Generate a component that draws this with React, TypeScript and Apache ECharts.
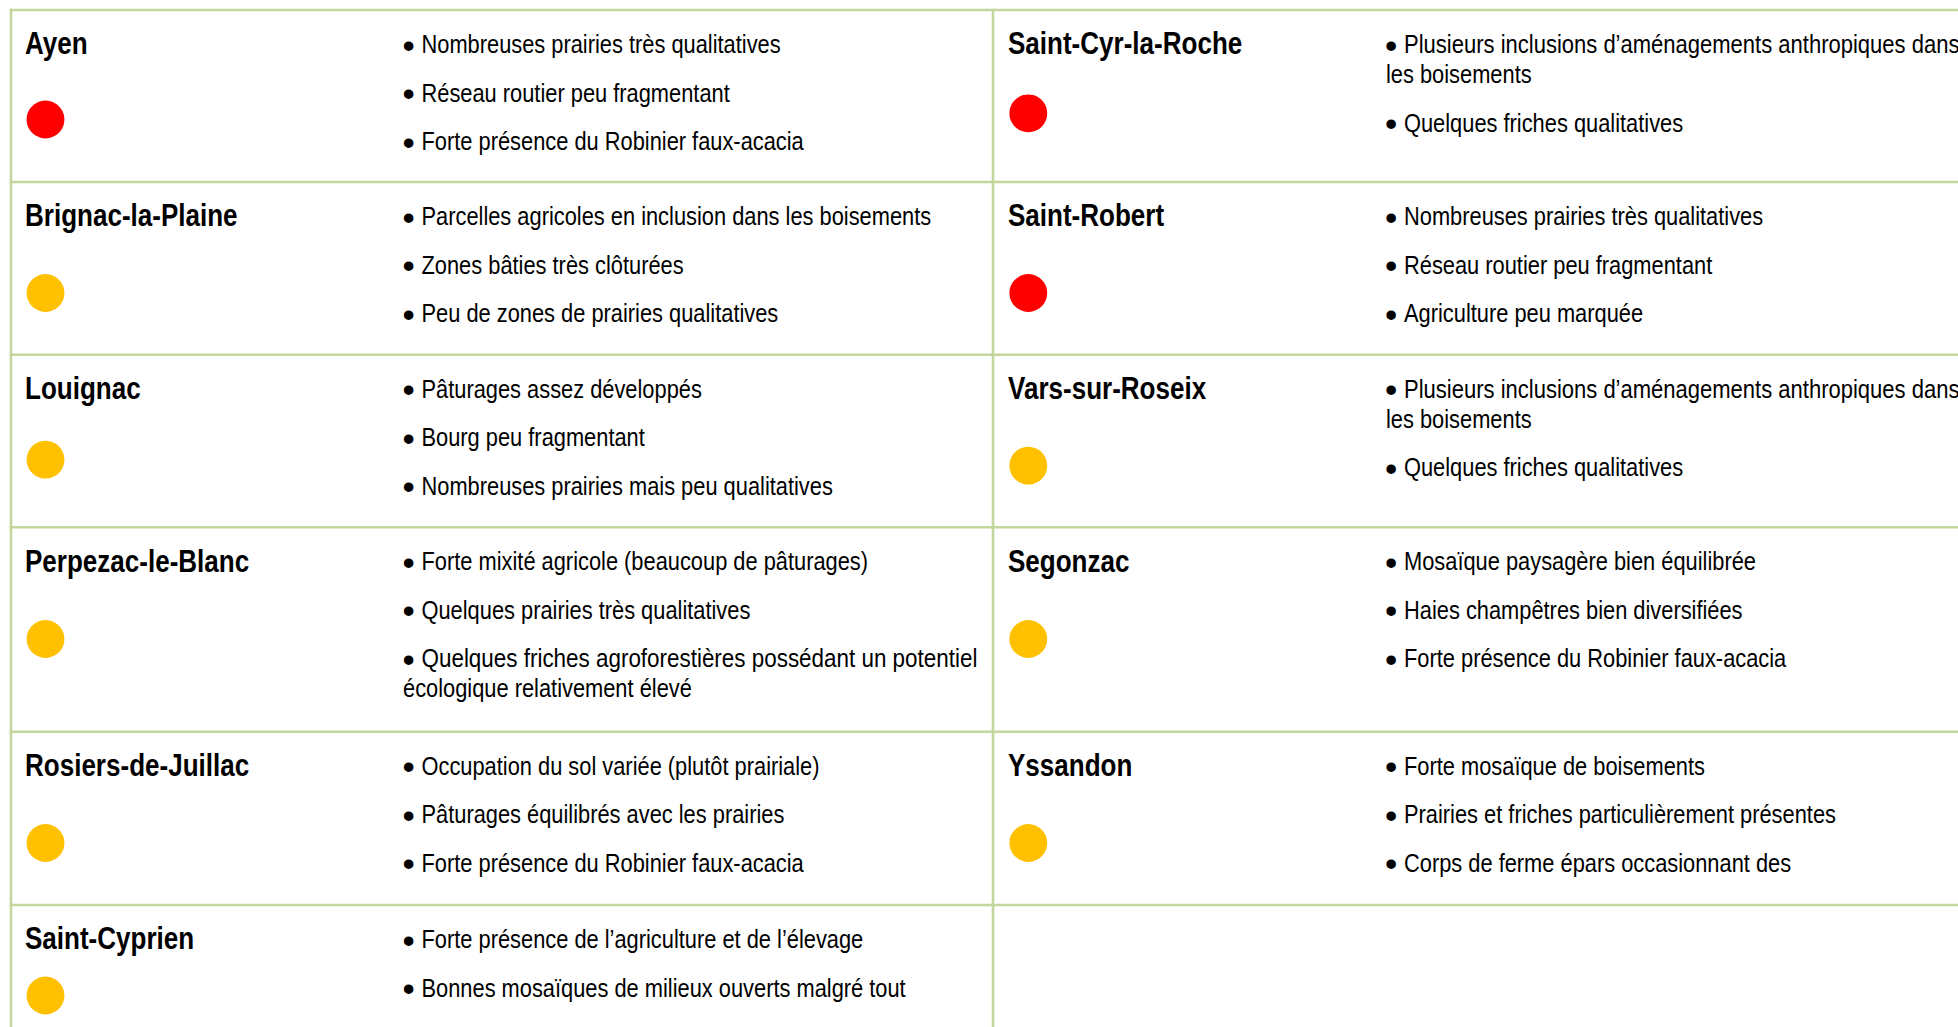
import React, { useEffect, useRef } from "react";
import * as echarts from "echarts";

// ---------- Data ----------
const LEFT_NAMES = [
  "Ayen",
  "Brignac-la-Plaine",
  "Louignac",
  "Perpezac-le-Blanc",
  "Rosiers-de-Juillac",
  "Saint-Cyprien",
];
const LEFT_STATUS = ["rouge", "jaune", "jaune", "jaune", "jaune", "jaune"];
const LEFT_POINTS: string[][][] = [
  [["Nombreuses prairies très qualitatives"], ["Réseau routier peu fragmentant"], ["Forte présence du Robinier faux-acacia"]],
  [["Parcelles agricoles en inclusion dans les boisements"], ["Zones bâties très clôturées"], ["Peu de zones de prairies qualitatives"]],
  [["Pâturages assez développés"], ["Bourg peu fragmentant"], ["Nombreuses prairies mais peu qualitatives"]],
  [
    ["Forte mixité agricole (beaucoup de pâturages)"],
    ["Quelques prairies très qualitatives"],
    ["Quelques friches agroforestières possédant un potentiel", "écologique relativement élevé"],
  ],
  [["Occupation du sol variée (plutôt prairiale)"], ["Pâturages équilibrés avec les prairies"], ["Forte présence du Robinier faux-acacia"]],
  [["Forte présence de l’agriculture et de l’élevage"], ["Bonnes mosaïques de milieux ouverts malgré tout"]],
];

const RIGHT_NAMES = ["Saint-Cyr-la-Roche", "Saint-Robert", "Vars-sur-Roseix", "Segonzac", "Yssandon"];
const RIGHT_STATUS = ["rouge", "rouge", "jaune", "jaune", "jaune"];
const RIGHT_POINTS: string[][][] = [
  [["Plusieurs inclusions d’aménagements anthropiques dans", "les boisements"], ["Quelques friches qualitatives"]],
  [["Nombreuses prairies très qualitatives"], ["Réseau routier peu fragmentant"], ["Agriculture peu marquée"]],
  [["Plusieurs inclusions d’aménagements anthropiques dans", "les boisements"], ["Quelques friches qualitatives"]],
  [["Mosaïque paysagère bien équilibrée"], ["Haies champêtres bien diversifiées"], ["Forte présence du Robinier faux-acacia"]],
  [["Forte mosaïque de boisements"], ["Prairies et friches particulièrement présentes"], ["Corps de ferme épars occasionnant des"]],
];

// ---------- Styles / layout ----------
const STATUS_COLORS: Record<string, string> = { rouge: "#ff0000", jaune: "#ffc000" };
const LINE_COLOR = "#c3d69b";
const FAMILY = '"Liberation Sans", Arial, sans-serif';
const BODY_SIZE = 26;
const BODY_SCALE = 0.84;
const NAME_SIZE = 31;
const NAME_SCALE = 0.84;
const W = 1958;
const H = 1027;
const ROW_LINES = [10, 182, 354.7, 527.3, 731.7, 905];
const LEFT_EDGE = 11;
const MID_EDGE = 993;

const COLUMNS = [
  {
    names: LEFT_NAMES,
    status: LEFT_STATUS,
    points: LEFT_POINTS,
    nameX: 25,
    dotX: 45.5,
    dotDy: [109.5, 111, 105, 111.7, 111.3, 90.5],
    bulletX: 408.5,
    textX: 421.5,
    contX: 403,
    justifyEnd: 978,
  },
  {
    names: RIGHT_NAMES,
    status: RIGHT_STATUS,
    points: RIGHT_POINTS,
    nameX: 1008,
    dotX: 1028.3,
    dotDy: [103.3, 111, 111, 111.7, 111.3],
    bulletX: 1391,
    textX: 1404,
    contX: 1386,
    justifyEnd: 1960,
  },
];

function buildElements() {
  const canvas = document.createElement("canvas");
  const ctx = canvas.getContext("2d")!;
  ctx.font = `${BODY_SIZE}px ${FAMILY}`;
  const measure = (s: string) => ctx.measureText(s).width;

  const els: any[] = [];
  const lineStyle = { stroke: LINE_COLOR, lineWidth: 2.6 };
  ROW_LINES.forEach((y) =>
    els.push({ type: "line", silent: true, shape: { x1: LEFT_EDGE - 1.3, y1: y, x2: W, y2: y }, style: lineStyle })
  );
  [LEFT_EDGE, MID_EDGE].forEach((x) =>
    els.push({ type: "line", silent: true, shape: { x1: x, y1: ROW_LINES[0] - 1.3, x2: x, y2: H }, style: lineStyle })
  );

  const textStyle = (text: string, font: string) => ({
    text,
    x: 0,
    y: 0,
    font,
    fill: "#000",
    align: "left",
    verticalAlign: "middle",
    textAlign: "left",
    textVerticalAlign: "middle",
  });

  COLUMNS.forEach((col) => {
    col.names.forEach((name, i) => {
      const top = ROW_LINES[i];
      els.push({
        type: "text",
        x: col.nameX,
        y: top + 33.6,
        scaleX: NAME_SCALE,
        style: textStyle(name, `bold ${NAME_SIZE}px ${FAMILY}`),
      });
      els.push({
        type: "circle",
        shape: { cx: col.dotX, cy: top + col.dotDy[i], r: 18.9 },
        style: { fill: STATUS_COLORS[col.status[i]] },
      });
      let y = top + 33.8;
      col.points[i].forEach((par) => {
        par.forEach((line, li) => {
          let x = col.contX;
          if (li === 0) {
            x = col.textX;
            els.push({
              type: "text",
              x: col.bulletX,
              y: y + 1.3,
              style: {
                text: "•",
                font: `35px ${FAMILY}`,
                fill: "#000",
                align: "center",
                verticalAlign: "middle",
                textAlign: "center",
                textVerticalAlign: "middle",
              },
            });
          }
          let scale = BODY_SCALE;
          const justify = li < par.length - 1;
          if (justify) {
            const natural = measure(line);
            if (natural > 0) scale = (col.justifyEnd - x) / natural;
          }
          els.push({
            type: "text",
            x,
            y,
            scaleX: scale,
            style: textStyle(line, `${BODY_SIZE}px ${FAMILY}`),
          });
          y += justify ? 30 : 48.5;
        });
      });
    });
  });
  return els;
}

export default function App() {
  const ref = useRef<HTMLDivElement>(null);
  useEffect(() => {
    if (!ref.current) return;
    const chart = echarts.init(ref.current, undefined, { renderer: "svg" });
    chart.setOption({
      animation: false,
      backgroundColor: "#ffffff",
      graphic: { elements: buildElements() },
    });
    return () => chart.dispose();
  }, []);
  return (
    <div
      ref={ref}
      style={{ position: "fixed", left: 0, top: 0, width: W, height: H, background: "#fff" }}
    />
  );
}
